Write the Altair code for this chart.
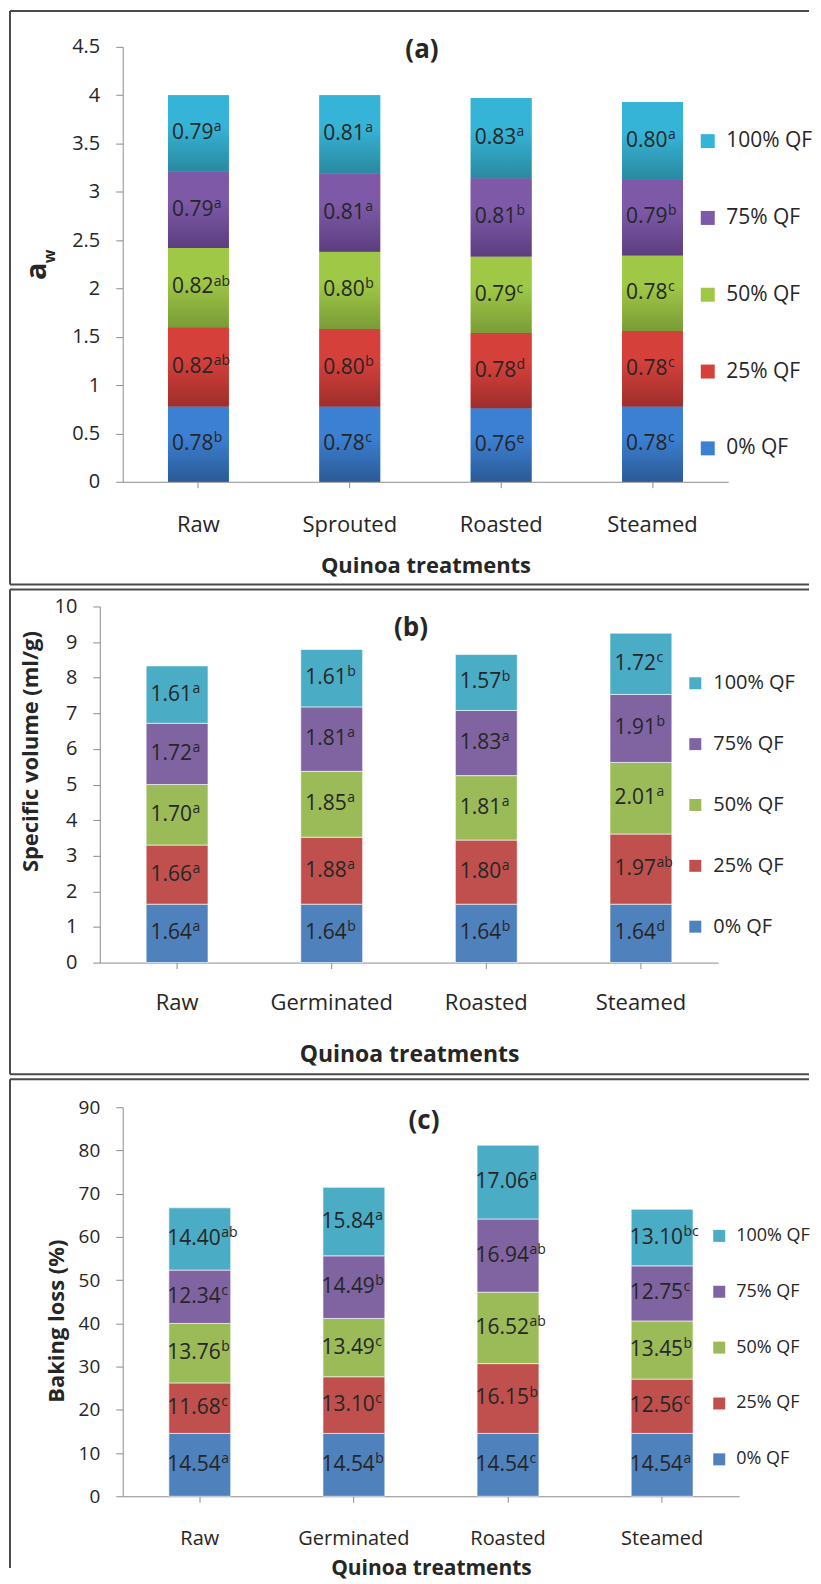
import altair as alt
import pandas as pd

# ---------------- data ----------------
series = ["0% QF", "25% QF", "50% QF", "75% QF", "100% QF"]
legend_order = ["100% QF", "75% QF", "50% QF", "25% QF", "0% QF"]

# (a) water activity
treat_a = ["Raw", "Sprouted", "Roasted", "Steamed"]
aw_raw = [0.78, 0.82, 0.82, 0.79, 0.79]
aw_raw_sup = ["b", "ab", "ab", "a", "a"]
aw_sprouted = [0.78, 0.80, 0.80, 0.81, 0.81]
aw_sprouted_sup = ["c", "b", "b", "a", "a"]
aw_roasted = [0.76, 0.78, 0.79, 0.81, 0.83]
aw_roasted_sup = ["e", "d", "c", "b", "a"]
aw_steamed = [0.78, 0.78, 0.78, 0.79, 0.80]
aw_steamed_sup = ["c", "c", "c", "b", "a"]
aw_ticks = [0, 0.5, 1, 1.5, 2, 2.5, 3, 3.5, 4, 4.5]

# (b) specific volume
treat_b = ["Raw", "Germinated", "Roasted", "Steamed"]
sv_raw = [1.64, 1.66, 1.70, 1.72, 1.61]
sv_raw_sup = ["a", "a", "a", "a", "a"]
sv_germinated = [1.64, 1.88, 1.85, 1.81, 1.61]
sv_germinated_sup = ["b", "a", "a", "a", "b"]
sv_roasted = [1.64, 1.80, 1.81, 1.83, 1.57]
sv_roasted_sup = ["b", "a", "a", "a", "b"]
sv_steamed = [1.64, 1.97, 2.01, 1.91, 1.72]
sv_steamed_sup = ["d", "ab", "a", "b", "c"]
sv_ticks = [0, 1, 2, 3, 4, 5, 6, 7, 8, 9, 10]

# (c) baking loss
treat_c = ["Raw", "Germinated", "Roasted", "Steamed"]
bl_raw = [14.54, 11.68, 13.76, 12.34, 14.40]
bl_raw_sup = ["a", "c", "b", "c", "ab"]
bl_germinated = [14.54, 13.10, 13.49, 14.49, 15.84]
bl_germinated_sup = ["b", "c", "c", "b", "a"]
bl_roasted = [14.54, 16.15, 16.52, 16.94, 17.06]
bl_roasted_sup = ["c", "b", "ab", "ab", "a"]
bl_steamed = [14.54, 12.56, 13.45, 12.75, 13.10]
bl_steamed_sup = ["a", "c", "b", "c", "bc"]
bl_ticks = [0, 10, 20, 30, 40, 50, 60, 70, 80, 90]

# colours (series order 0%..100%)
flat_colors = ["#4F81BD", "#C0504D", "#9BBB59", "#8064A2", "#4BACC6"]
grad_top = ["#3C80D4", "#D6403B", "#9FC846", "#7D59A8", "#36B4D8"]
grad_bottom = ["#2B5A95", "#9E2E2B", "#7A9C37", "#5C3E7F", "#2A899F"]

TXT = "#262626"
AXC = "#8C8C8C"
FONT = "Open Sans"


def make_df(treatments, vals, sups):
    rows = []
    for t, v, s in zip(treatments, vals, sups):
        for j, ser in enumerate(series):
            rows.append({"treatment": t, "series": ser, "idx": j,
                         "value": v[j], "label": f"{v[j]:.2f}", "sup": s[j]})
    return pd.DataFrame(rows)


df_a = make_df(treat_a, [aw_raw, aw_sprouted, aw_roasted, aw_steamed],
               [aw_raw_sup, aw_sprouted_sup, aw_roasted_sup, aw_steamed_sup])
df_b = make_df(treat_b, [sv_raw, sv_germinated, sv_roasted, sv_steamed],
               [sv_raw_sup, sv_germinated_sup, sv_roasted_sup, sv_steamed_sup])
df_c = make_df(treat_c, [bl_raw, bl_germinated, bl_roasted, bl_steamed],
               [bl_raw_sup, bl_germinated_sup, bl_roasted_sup, bl_steamed_sup])


def frame(left, top, right, bottom, draw_bottom=True):
    d = pd.DataFrame({"f": [0]})
    base = alt.Chart(d).mark_rule(color="#4a4a4a", strokeWidth=2)
    out = [
        base.encode(x=alt.value(left), x2=alt.value(right), y=alt.value(top)),
        base.encode(x=alt.value(left), y=alt.value(top), y2=alt.value(bottom)),
    ]
    if draw_bottom:
        out.append(base.encode(x=alt.value(left), x2=alt.value(right), y=alt.value(bottom)))
    return out


def label_text(text, x, y, size, angle=0, baseline="middle", align="center"):
    d = pd.DataFrame({"t": [text]})
    return alt.Chart(d).mark_text(
        fontSize=size, fontWeight="bold", color=TXT, font=FONT, angle=angle,
        baseline=baseline, align=align
    ).encode(text="t:N", x=alt.value(x), y=alt.value(y))


def panel(df, treatments, width, height, ymax, yticks, p):
    xs_kw = dict(paddingInner=0, paddingOuter=0)
    if p.get("xrange"):
        xs_kw["range"] = p["xrange"]
    xs = alt.Scale(**xs_kw)
    ys = alt.Scale(domain=[0, ymax], nice=False, zero=True)
    x_axis = alt.Axis(
        title="Quinoa treatments", labelAngle=0, labelFontSize=p["xlab_fs"],
        labelPadding=p["xlab_pad"], titleFontSize=p["xtitle_fs"],
        titlePadding=p["xtitle_pad"], titleFontWeight="bold", tickSize=6,
        domainColor=AXC, tickColor=AXC, labelColor=TXT, titleColor=TXT,
        labelFont=FONT, titleFont=FONT,
    )
    y_axis_kw = dict(
        values=yticks, labelExpr="'' + datum.value", title=p["ytitle"],
        labelFontSize=p["ylab_fs"], labelPadding=p["ylab_pad"], tickSize=7,
        titleFontSize=p["ytitle_fs"], titleFontWeight="bold",
        titlePadding=p["ytitle_pad"], domainColor=AXC, tickColor=AXC,
        labelColor=TXT, titleColor=TXT, grid=False, labelFont=FONT, titleFont=FONT,
        offset=p.get("yoffset", 0),
    )
    if p.get("ytitle_y") is not None:
        y_axis_kw["titleY"] = p["ytitle_y"]
    y_axis = alt.Axis(**y_axis_kw)
    enc_x = alt.X("treatment:N", sort=treatments, scale=xs, axis=x_axis)
    enc_y = alt.Y("v0:Q", scale=ys, axis=y_axis)
    enc_mid = alt.Y("mid:Q", scale=ys, axis=y_axis)

    base = alt.Chart(df).transform_stack(
        stack="value", groupby=["treatment"], as_=["v0", "v1"],
        sort=[alt.SortField("idx", order="ascending")],
    ).transform_calculate(mid="(datum.v0 + datum.v1) / 2")

    bar_kw = dict(size=p["bar"])
    if not p["gradient"]:
        bar_kw.update(stroke="#ffffff", strokeWidth=1, strokeOpacity=0.6)
    bars = base.mark_bar(**bar_kw).encode(
        x=enc_x, y=enc_y, y2="v1:Q",
        color=alt.Color(
            "series:N",
            scale=alt.Scale(domain=legend_order, range=p["legend_colors"]),
            legend=alt.Legend(
                orient="none", legendX=p["leg_x"], legendY=p["leg_y"], title=None,
                symbolType="square", symbolSize=p["sym"], symbolStrokeWidth=0,
                labelFontSize=p["leg_fs"], labelOffset=8, rowPadding=p["leg_rowpad"],
                labelColor=TXT, labelFont=FONT, padding=0, labelLimit=300,
            ),
        ),
    )
    layers = frame(*p["frame"]) + [bars]
    if p["gradient"]:
        for s, top, bot in zip(series, grad_top, grad_bottom):
            g = {"gradient": "linear", "x1": 0, "y1": 0, "x2": 0, "y2": 1,
                 "stops": [{"offset": 0, "color": top}, {"offset": 0.4, "color": top},
                           {"offset": 1, "color": bot}]}
            layers.append(
                base.transform_filter(alt.datum.series == s)
                .mark_bar(size=p["bar"], color=g)
                .encode(x=enc_x, y=enc_y, y2="v1:Q")
            )
    nums = base.mark_text(
        align="right", baseline="middle", dx=p["k"], fontSize=p["num_fs"],
        color=TXT, font=FONT,
    ).encode(x=enc_x, y=enc_mid, text="label:N")
    sups = base.mark_text(
        align="left", baseline="middle", dx=p["k"] + 0.5, dy=p["sup_dy"],
        fontSize=p["sup_fs"], color=TXT, font=FONT,
    ).encode(x=enc_x, y=enc_mid, text="sup:N")
    layers += [nums, sups]
    layers += p["extra"]
    return alt.layer(*layers).properties(width=width, height=height)


legend_colors = flat_colors[::-1]
legend_colors_a = grad_top[::-1]

pa = panel(df_a, treat_a, 607, 436, 4.5, aw_ticks, dict(
    xlab_fs=22, xlab_pad=27, xtitle_fs=22, xtitle_pad=20,
    ylab_fs=20, ylab_pad=16, ytitle=None, ytitle_fs=22, ytitle_pad=10,
    bar=61, gradient=True, legend_colors=legend_colors_a,
    leg_x=576, leg_y=84, sym=196, leg_fs=21, leg_rowpad=55,
    k=15, num_fs=21, sup_fs=14, sup_dy=-6,
    frame=(-113, -36, 688, 539, True),
    extra=[label_text("(a)", 300, 3, 26),
           label_text("a", -77, 225, 29, angle=270, baseline="alphabetic"),
           label_text("w", -68, 210, 16, angle=270, baseline="alphabetic")],
))

pb = panel(df_b, treat_b, 597, 357, 10, sv_ticks, dict(
    xrange=[-23, 597], yoffset=23,
    xlab_fs=22, xlab_pad=24, xtitle_fs=23, xtitle_pad=30,
    ylab_fs=20, ylab_pad=16, ytitle="Specific volume (ml/g)", ytitle_fs=22,
    ytitle_pad=12, ytitle_y=145,
    bar=62, gradient=False, legend_colors=legend_colors,
    leg_x=564, leg_y=67, sym=144, leg_fs=20, leg_rowpad=41,
    k=15, num_fs=21, sup_fs=14, sup_dy=-6,
    frame=(-113, -17, 688, 469, True),
    extra=[label_text("(b)", 289, 22, 26)],
))

pc = panel(df_c, treat_c, 618, 390, 90, bl_ticks, dict(
    xlab_fs=20, xlab_pad=26, xtitle_fs=21, xtitle_pad=9,
    ylab_fs=19, ylab_pad=16, ytitle="Baking loss (%)", ytitle_fs=22, ytitle_pad=10,
    ytitle_y=214,
    bar=62, gradient=False, legend_colors=legend_colors,
    leg_x=589, leg_y=120, sym=144, leg_fs=18, leg_rowpad=38,
    k=21, num_fs=21, sup_fs=14, sup_dy=-6,
    frame=(-113, -28, 688, 462, False),
    extra=[label_text("(c)", 302, 14, 26)],
))

chart = alt.concat(pa, pb, pc, columns=1, spacing=3, bounds="full").resolve_scale(
    color="independent", x="independent", y="independent"
).resolve_legend(color="independent").properties(
    padding={"left": 1, "top": 0, "right": 0, "bottom": 0}
).configure(font=FONT).configure_view(stroke=None)

chart.save("out.html", embed_options={"renderer": "svg", "actions": False})
